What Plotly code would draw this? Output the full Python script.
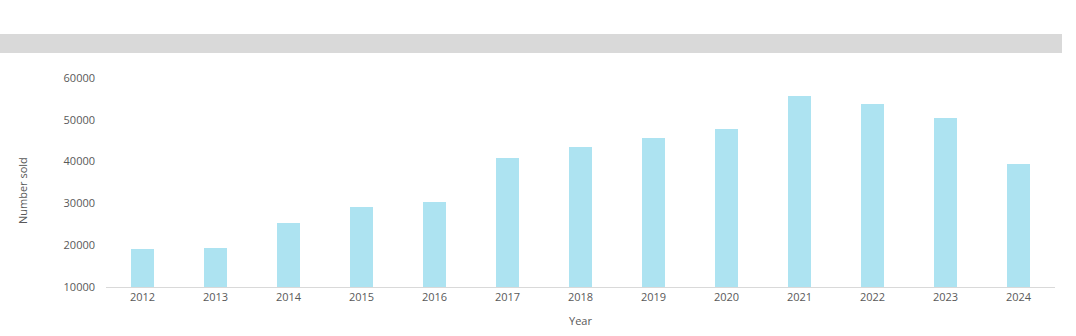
import plotly.graph_objects as go

years = ["2012", "2013", "2014", "2015", "2016", "2017", "2018", "2019", "2020", "2021", "2022", "2023", "2024"]
sold = [19100, 19300, 25300, 29100, 30300, 40900, 43500, 45600, 47800, 55700, 53800, 50400, 39400]
y_ticks = [10000, 20000, 30000, 40000, 50000, 60000]

W, H = 1076, 336
L, R, T, B = 106, 21, 78, 49
pw, ph = W - L - R, H - T - B

fig = go.Figure(go.Bar(x=years, y=sold, marker_color="#ade3f1", width=0.315,
                       marker_line_width=0))

def px_x(p):
    return (p - L) / pw

def px_y(p):
    return (H - B - p) / ph

fig.add_shape(type="rect", xref="paper", yref="paper",
              x0=px_x(0), x1=px_x(1062), y0=px_y(53), y1=px_y(34),
              fillcolor="#d9d9d9", line_width=0, layer="below")

font = dict(family="Open Sans, DejaVu Sans, sans-serif", size=11, color="#595959")
fig.add_annotation(text="Number sold", xref="paper", yref="paper",
                   x=px_x(22), y=px_y(191), textangle=-90, showarrow=False,
                   xanchor="center", yanchor="middle", font=font)
fig.update_layout(
    width=W, height=H,
    margin=dict(l=L, r=R, t=T, b=B, autoexpand=False),
    plot_bgcolor="white", paper_bgcolor="white",
    font=font, showlegend=False, bargap=0,
    xaxis=dict(title=dict(text="Year", standoff=14, font=font), showline=True,
               linecolor="#d9d9d9", linewidth=1, showgrid=False, ticks="",
               automargin=False, tickfont=font),
    yaxis=dict(range=[10000, 60000], tickvals=y_ticks, tickformat="d",
               showgrid=False, zeroline=False, showline=False, ticks="",
               ticklabelstandoff=10, automargin=False, tickfont=font),
)

fig.write_html("out.html")
